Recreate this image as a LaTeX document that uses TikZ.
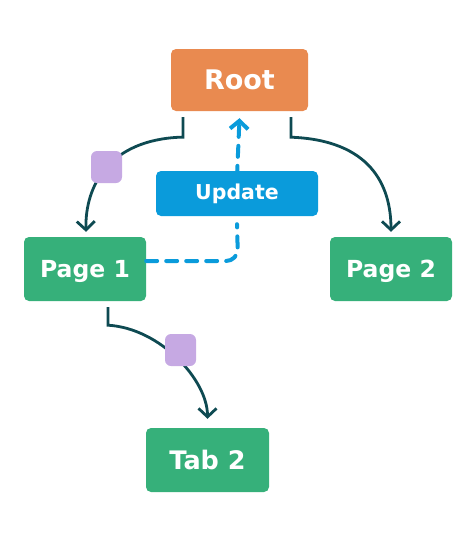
\documentclass[tikz,border=0pt]{standalone}
\usepackage{fontspec}
\setmainfont{DejaVu Sans}
\usetikzlibrary{arrows.meta}
\definecolor{rootc}{HTML}{E98A50}
\definecolor{greenc}{HTML}{36B07A}
\definecolor{bluec}{HTML}{0A9BDB}
\definecolor{purc}{HTML}{C6A9E3}
\definecolor{linec}{HTML}{0E4A52}
\begin{document}
\begin{tikzpicture}[x=1pt,y=-1pt,
  box/.style={rounded corners=5pt,inner sep=0pt,text=white,font=\bfseries},
  tag/.style={fill=purc,rounded corners=6pt,minimum width=31pt,minimum height=32pt,inner sep=0pt},
  conn/.style={draw=linec,line width=2.8pt,-{Straight Barb[length=8.5pt,width=18pt]}},
  bluedash/.style={draw=bluec,line width=4pt,dash pattern=on 11pt off 9pt,line cap=round}]
\useasboundingbox (0,0) rectangle (474,541);
\node[box,fill=rootc,minimum width=137pt,minimum height=62pt,font=\bfseries\fontsize{27}{30}\selectfont] (root) at (239.5,80) {Root};
\node[box,fill=bluec,minimum width=162pt,minimum height=45pt,font=\bfseries\fontsize{20.5}{24}\selectfont] (upd) at (237,193.5) {Update};
\node[box,fill=greenc,minimum width=122pt,minimum height=64pt,text depth=0pt,font=\bfseries\fontsize{23.5}{27}\selectfont] (p1) at (85,269) {Page 1};
\node[box,fill=greenc,minimum width=122pt,minimum height=64pt,text depth=0pt,font=\bfseries\fontsize{23.5}{27}\selectfont] (p2) at (391,269) {Page 2};
\node[box,fill=greenc,minimum width=123pt,minimum height=64pt,font=\bfseries\fontsize{25.5}{29}\selectfont] (t2) at (207.5,460) {Tab 2};
% connectors
\draw[conn] ([xshift=-56.5pt,yshift=-6pt]root.south) -- ++(0,20) -- ++(-3,0)
  .. controls ++(-70,3) and ([yshift=52pt]p1.north) .. ([xshift=1pt,yshift=5pt]p1.north);
\draw[conn] ([xshift=51.5pt,yshift=-6pt]root.south) -- ++(0,20)
  .. controls ++(79,3) and ([yshift=52pt]p2.north) .. ([yshift=5pt]p2.north);
\draw[conn] ([xshift=23pt,yshift=-6pt]p1.south) -- ++(0,18)
  .. controls ++(52,3) and ([yshift=48pt]t2.north) .. ([yshift=9pt]t2.north);
\draw[bluedash,rounded corners=12pt] (p1.east |- 0,261) -- (238,261) -- ([yshift=-8pt]upd.south);
\draw[bluedash,-{Straight Barb[length=8pt,width=18pt]}] ([yshift=-6pt]upd.north) -- ([yshift=-7pt]root.south);
% tags
\node[tag] (tag1) at (106.5,167) {};
\node[tag] (tag2) at (180.5,350) {};
\end{tikzpicture}
\end{document}
